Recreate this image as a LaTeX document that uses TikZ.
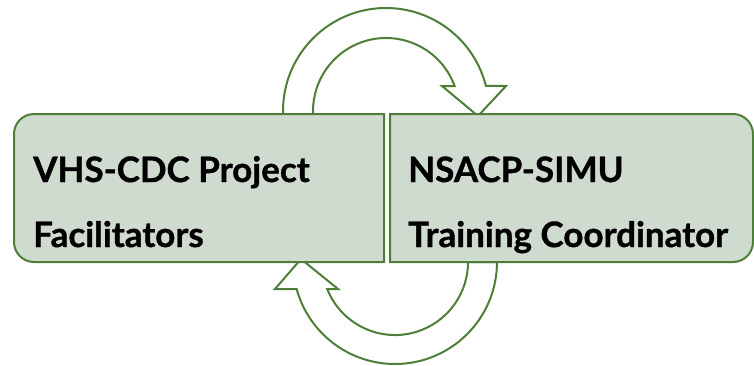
\documentclass[tikz,border=0pt]{standalone}
\usepackage{fontspec}
\setmainfont{Lato}[BoldFeatures={FakeBold=1}]
\definecolor{boxfill}{HTML}{D0DBD0}
\definecolor{boxline}{HTML}{4E7F38}
\tikzset{
  boxshape/.style={draw=boxline, fill=boxfill, line width=2pt},
  cyclearrow/.style={draw=boxline, fill=white, line width=2pt, line join=miter},
  label/.style={anchor=base west, inner sep=0pt, font=\fontsize{35}{40}\selectfont\bfseries, text=black}
}
\begin{document}
\begin{tikzpicture}[x=1pt,y=1pt]
\useasboundingbox (0,0) rectangle (754,365);
% top cycle arrow
\path[cyclearrow] (283,250) -- (283,254) arc[start angle=180, end angle=14.05, radius=103]
  -- (506,279) -- (478,249) -- (442,279) -- (454.6,279)
  arc[start angle=20.03, end angle=180, radius=73] -- (313,250) -- cycle;
% bottom cycle arrow
\path[cyclearrow] (497,103) arc[start angle=0, end angle=-164.65, radius=102]
  -- (275,76) -- (301,106) -- (338,76) -- (327.2,76)
  arc[start angle=-158.3, end angle=0, radius=73] -- cycle;
% boxes
\path[boxshape] (384,103) -- (34,103) arc[start angle=270, end angle=180, radius=20]
  -- (14,231) arc[start angle=180, end angle=90, radius=20] -- (384,251) -- cycle;
\path[boxshape] (390,103) -- (733,103) arc[start angle=-90, end angle=0, radius=20]
  -- (753,231) arc[start angle=0, end angle=90, radius=20] -- (390,251) -- cycle;
% texts
\node[label] (l1) at (33,183) {VHS-CDC Project};
\node[label] (l2) at (33,118) {Facilitators};
\node[label] (r1) at (408,183) {NSACP-SIMU};
\node[label] (r2) at (408,118) {Training Coordinator};
\end{tikzpicture}
\end{document}
